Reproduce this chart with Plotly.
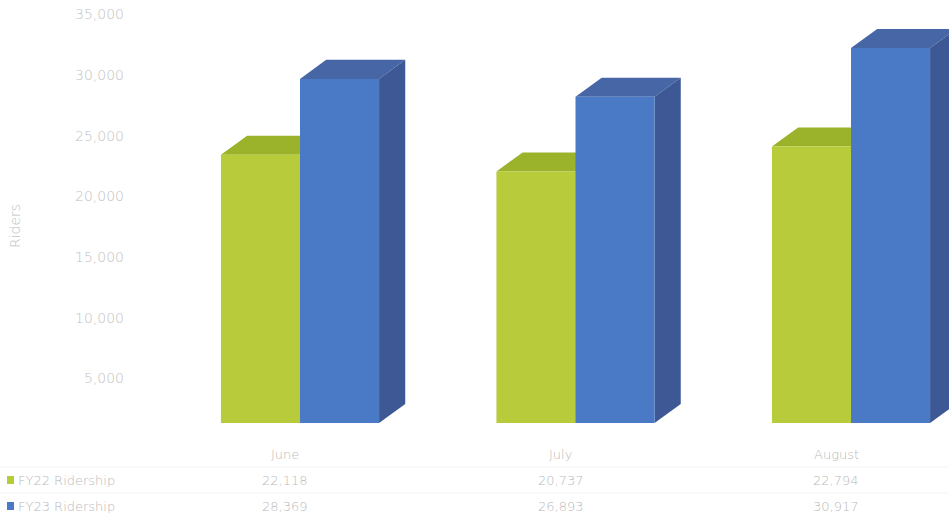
import plotly.graph_objects as go

# Monthly ridership, two fiscal years
months = ["June", "July", "August"]
fy22_riders = [22118, 20737, 22794]
fy23_riders = [28369, 26893, 30917]
series_names = ["FY22 Ridership", "FY23 Ridership"]
y_ticks = [5000, 10000, 15000, 20000, 25000, 30000, 35000]

W, H = 949, 513

# palette: front / top / side faces
GREEN = ("#b7cb3b", "#9bb22b", "#8a9e25")
BLUE = ("#4a79c6", "#4766a6", "#3d5894")
TEXT = "#b9b9b9"
FONT = "DejaVu Sans, Open Sans, sans-serif"

# geometry (category index units on x, riders on y)
bar_w = 0.287          # width of each front face
depth_x = 0.095        # horizontal depth offset of the 3D faces
depth_y = 1570         # vertical depth offset, in riders

fig = go.Figure()
xs = list(range(len(months)))

for vals, colors, offset, name in [
    (fy22_riders, GREEN, -bar_w, series_names[0]),
    (fy23_riders, BLUE, 0.0, series_names[1]),
]:
    fig.add_trace(go.Bar(
        x=xs, y=vals, base=0, width=bar_w, offset=offset,
        marker=dict(color=colors[0], line=dict(width=0)),
        name=name, showlegend=False,
    ))
    # top and side faces give the columns their depth
    for i, v in enumerate(vals):
        x0 = i + offset
        x1 = x0 + bar_w
        fig.add_shape(
            type="path", layer="below", xref="x", yref="y",
            path=(f"M{x0},{v} L{x1},{v} L{x1 + depth_x},{v + depth_y} "
                  f"L{x0 + depth_x},{v + depth_y} Z"),
            fillcolor=colors[1], line=dict(width=0),
        )
        fig.add_shape(
            type="path", layer="below", xref="x", yref="y",
            path=(f"M{x1},0 L{x1},{v} L{x1 + depth_x},{v + depth_y} "
                  f"L{x1 + depth_x},{depth_y} Z"),
            fillcolor=colors[2], line=dict(width=0),
        )

# invisible trace that carries the back-wall value axis
fig.add_trace(go.Scatter(x=[0], y=[0], yaxis="y2", mode="markers",
                         marker=dict(opacity=0), showlegend=False,
                         hoverinfo="skip"))

px_per_cat = 275.5
x_left = -300 / px_per_cat
x_right = (W - 300) / px_per_cat
px_per_rider = 0.01213
front_zero = 423
back_zero = 439

fig.update_layout(
    width=W, height=H,
    margin=dict(l=0, r=0, t=0, b=0),
    paper_bgcolor="white", plot_bgcolor="white",
    barmode="overlay",
    font=dict(family=FONT, color=TEXT, size=13, weight=300),
    xaxis=dict(range=[x_left, x_right], visible=False, fixedrange=True),
    yaxis=dict(range=[-(H - front_zero) / px_per_rider, front_zero / px_per_rider],
               visible=False),
    yaxis2=dict(
        range=[-(H - back_zero) / px_per_rider, back_zero / px_per_rider],
        overlaying="y", anchor="free", position=124 / W, side="left",
        tickvals=y_ticks, tickformat=",d", showgrid=False, zeroline=False,
        showline=False, ticks="",
        tickfont=dict(family=FONT, size=14, color="#c2c2c2", weight=300),
    ),
)

# axis title
fig.add_annotation(text="Riders", textangle=-90, x=15 / W, y=1 - 226 / H,
                   xref="paper", yref="paper", xanchor="center",
                   yanchor="middle", showarrow=False,
                   font=dict(size=14, color="#c2c2c2"))

# data table under the chart
row_y = [454, 480, 506]
for i, m in enumerate(months):
    fig.add_annotation(text=m, x=i, xshift=-15, y=1 - row_y[0] / H,
                       xref="x", yref="paper", xanchor="center",
                       yanchor="middle", showarrow=False)
    for r, vals in enumerate([fy22_riders, fy23_riders]):
        fig.add_annotation(text=f"{vals[i]:,}", x=i, xshift=-15,
                           y=1 - row_y[r + 1] / H, xref="x", yref="paper",
                           xanchor="center", yanchor="middle",
                           showarrow=False)

for r, (name, colors) in enumerate(zip(series_names, [GREEN, BLUE])):
    yc = row_y[r + 1]
    fig.add_shape(type="rect", xref="paper", yref="paper",
                  x0=7 / W, x1=14 / W, y0=1 - (yc + 4) / H, y1=1 - (yc - 4) / H,
                  fillcolor=colors[0], line=dict(width=0))
    fig.add_annotation(text=name, x=16 / W, y=1 - yc / H, xref="paper",
                       yref="paper", xanchor="left", yanchor="middle",
                       showarrow=False)

# faint rules between table rows
for yline in [467, 493]:
    fig.add_shape(type="line", xref="paper", yref="paper",
                  x0=0, x1=1, y0=1 - yline / H, y1=1 - yline / H,
                  line=dict(color="#f4f4f4", width=1))

fig.write_html("out.html")
